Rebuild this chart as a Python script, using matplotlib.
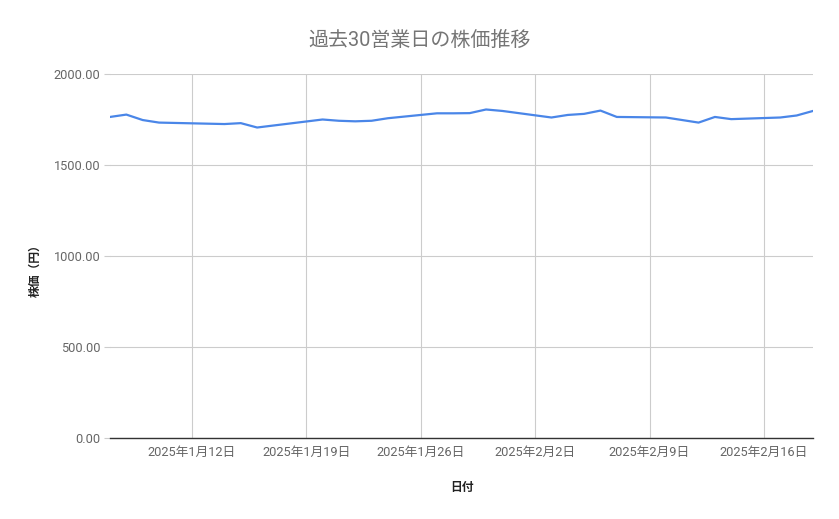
import matplotlib
matplotlib.use("Agg")
import matplotlib.pyplot as plt
import matplotlib.dates as mdates
import matplotlib.ticker as mticker
import pandas as pd

FONT = ['Roboto', 'Noto Sans CJK JP', 'DejaVu Sans']
plt.rcParams['font.family'] = FONT

dates = pd.to_datetime([
    "2025-01-07", "2025-01-08", "2025-01-09", "2025-01-10",
    "2025-01-14", "2025-01-15", "2025-01-16", "2025-01-17",
    "2025-01-20", "2025-01-21", "2025-01-22", "2025-01-23", "2025-01-24",
    "2025-01-27", "2025-01-28", "2025-01-29", "2025-01-30", "2025-01-31",
    "2025-02-03", "2025-02-04", "2025-02-05", "2025-02-06", "2025-02-07",
    "2025-02-10", "2025-02-12", "2025-02-13", "2025-02-14",
    "2025-02-17", "2025-02-18", "2025-02-19",
])
prices = [
    1764, 1777, 1747, 1733,
    1725, 1730, 1706, 1717,
    1750, 1743, 1740, 1743, 1757,
    1784, 1784, 1785, 1805, 1797,
    1761, 1775, 1781, 1799, 1764,
    1761, 1733, 1764, 1752,
    1761, 1772, 1797,
]
tick_dates = pd.to_datetime(["2025-01-12", "2025-01-19", "2025-01-26",
                             "2025-02-02", "2025-02-09", "2025-02-16"])
y_ticks = [0, 500, 1000, 1500, 2000]

title = "過去30営業日の株価推移"
x_label = "日付"
y_label = "株価（円）"

fig = plt.figure(figsize=(8.39, 5.19), dpi=100)
ax = fig.add_axes([110/839, 1-438/519, (813-110)/839, (438-74)/519])

ax.plot(dates, prices, color='#4a86e8', linewidth=1.6, solid_joinstyle='round')

ax.set_xlim(dates[0], dates[-1])
ax.set_ylim(0, 2000)
ax.set_yticks(y_ticks)
ax.yaxis.set_major_formatter(mticker.FuncFormatter(lambda v, p: f"{v:.2f}"))
ax.set_xticks(tick_dates)
ax.set_xticklabels([f"{d.year}年{d.month}月{d.day}日" for d in tick_dates])

ax.grid(True, color='#cccccc', linewidth=0.8)
ax.set_axisbelow(True)
for s in ['top', 'right', 'left']:
    ax.spines[s].set_visible(False)
ax.spines['bottom'].set_color('#333333')
ax.spines['bottom'].set_linewidth(1.0)
ax.spines['bottom'].set_zorder(3)

ax.tick_params(axis='y', length=4, color='#cccccc', width=0.8, pad=3,
               labelsize=9.2, labelcolor='#666666')
ax.tick_params(axis='x', length=0, pad=6, labelsize=9.2, labelcolor='#666666')
for lab in ax.get_xticklabels() + ax.get_yticklabels():
    lab.set_family(FONT)

fig.text(420/839, 1-40/519, title, ha='center', va='center',
         fontsize=14.4, color='#757575', family=FONT)
fig.text(462/839, 1-487/519, x_label, ha='center', va='center',
         fontsize=8.5, color='#222222', family=FONT, fontweight='bold')
fig.text(35/839, 1-268/519, y_label, ha='center', va='center', rotation=90,
         fontsize=8.5, color='#222222', family=FONT, fontweight='bold')

fig.savefig("out.png", dpi=100, facecolor='white')
